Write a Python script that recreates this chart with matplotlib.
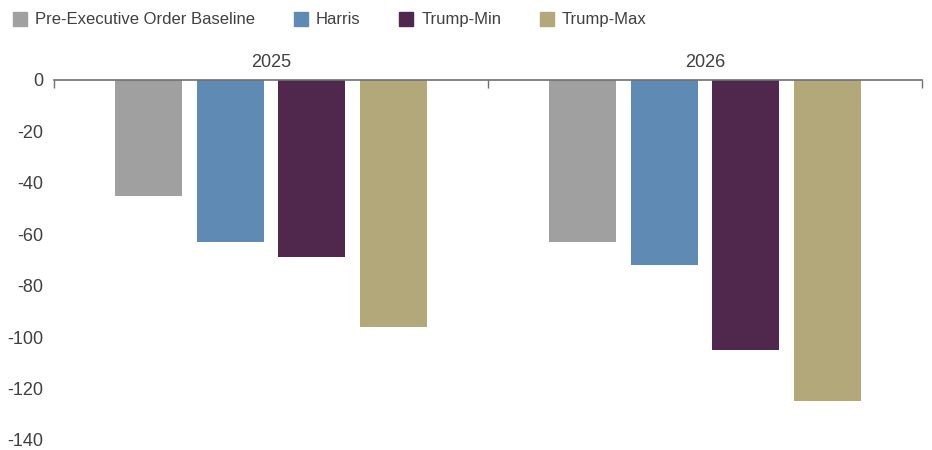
import matplotlib
matplotlib.use("Agg")
import matplotlib.pyplot as plt
from matplotlib.lines import Line2D
import numpy as np

plt.rcParams['font.family'] = ['Liberation Sans', 'DejaVu Sans']

categories = ["2025", "2026"]
series_names = ["Pre-Executive Order Baseline", "Harris", "Trump-Min", "Trump-Max"]
pre_baseline = [-45, -63]
harris = [-63, -72]
trump_min = [-69, -105]
trump_max = [-96, -125]
series_values = [pre_baseline, harris, trump_min, trump_max]
colors = ["#a0a0a0", "#5f8ab4", "#50284e", "#b3a87a"]
yticks = [0, -20, -40, -60, -80, -100, -120, -140]

text_color = "#404040"

fig = plt.figure(figsize=(9.32, 4.5), dpi=100)
ax = fig.add_axes([54/932, 1-440/450, (922-54)/932, (440-80)/450])

x = np.arange(len(categories))
step = 0.188
width = 0.154
for i, (name, vals, c) in enumerate(zip(series_names, series_values, colors)):
    ax.bar(x + (i - 1.5) * step, vals, width=width, color=c, label=name, zorder=2)

ax.set_xlim(-0.5, len(categories) - 0.5)
ax.set_ylim(-140, 0)
ax.set_yticks(yticks)
ax.set_yticklabels([str(t) for t in yticks], fontsize=13, color=text_color)
ax.tick_params(axis='y', length=0, pad=8)

for s in ['left', 'right', 'bottom']:
    ax.spines[s].set_visible(False)
ax.spines['top'].set_color('#707070')
ax.spines['top'].set_linewidth(1.2)
ax.spines['top'].set_zorder(3)

# category boundary ticks
ax.xaxis.set_ticks_position('top')
ax.set_xticks([-0.5, 0.5, 1.5])
ax.set_xticklabels([])
ax.tick_params(axis='x', direction='in', length=6, width=1, color='#707070')
for xi, cat in zip(x, categories):
    ax.text(xi, 1.025, cat, transform=ax.get_xaxis_transform(), ha='center', va='bottom',
            fontsize=13, color=text_color)

handles = [Line2D([0], [0], marker='s', linestyle='none', markersize=10,
                  markerfacecolor=c, markeredgecolor=c) for c in colors]
fig.legend(handles, series_names, loc='upper left', bbox_to_anchor=(0.0, 1.0),
           ncol=4, frameon=False, fontsize=12, handlelength=0.9, handletextpad=0.45,
           columnspacing=2.3, borderaxespad=0.35, labelcolor=text_color)

fig.savefig("out.png", dpi=100)
